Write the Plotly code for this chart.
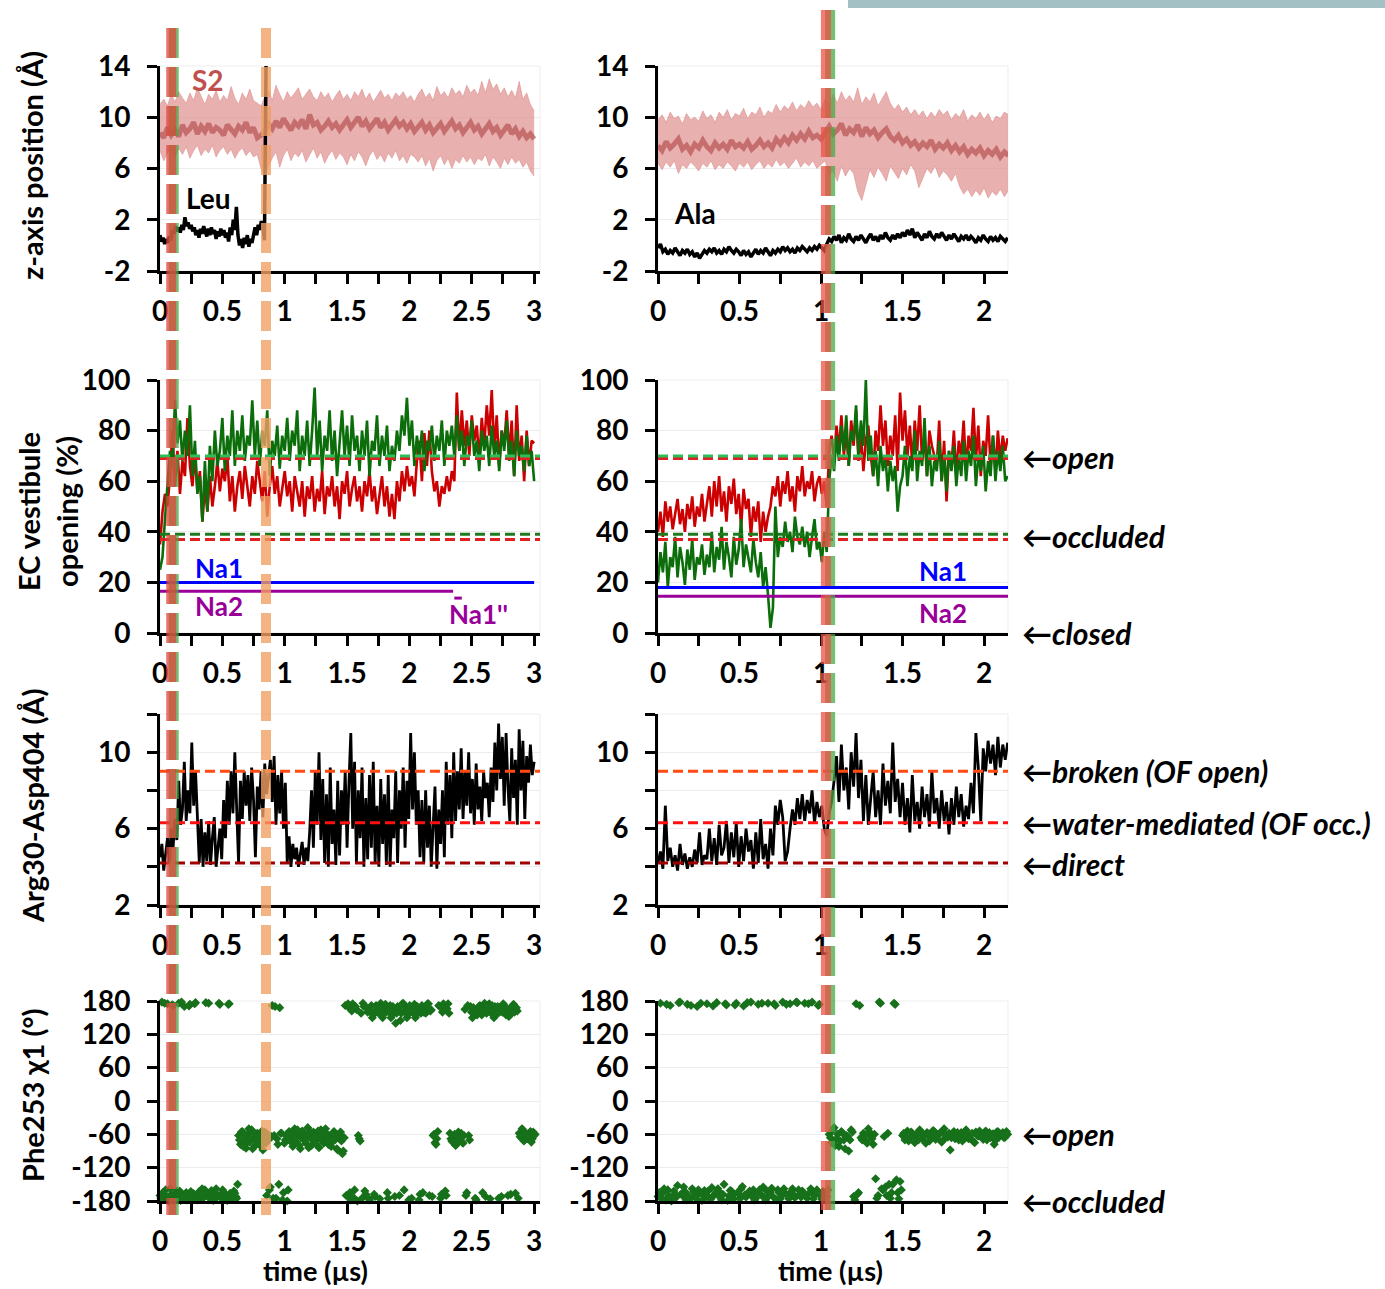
import numpy as np
import plotly.graph_objects as go

W, H = 1385, 1289
OFF = 0  # body margin removed via post_script
FONT = "Lato, 'Open Sans', sans-serif"

# ---------------- DATA ----------------
# Row 1: z-axis position (Å)
S2_STEP_L = 0.03
s2_center_L = [8.8, 8.4, 9.2, 8.6, 9.0, 8.5, 9.4, 8.8, 9.1, 9.6, 8.7, 9.3, 8.9, 9.5, 8.8, 9.2, 9.0, 8.6, 9.4, 9.1,
               8.7, 9.3, 9.0, 9.6, 8.8, 9.2, 8.4, 8.6, 8.9, 9.5, 9.1, 9.7, 9.2, 9.9, 9.4, 9.0, 9.6, 9.3, 9.8, 9.1,
               10.2, 9.4, 9.6, 9.0, 9.3, 9.7, 9.2, 9.5, 9.0, 9.4, 9.8, 9.2, 9.6, 10.0, 9.3, 9.7, 9.1, 9.5, 9.9, 9.2,
               9.6, 9.0, 9.4, 9.8, 9.3, 9.6, 9.1, 9.5, 8.9, 9.3, 9.6, 9.0, 9.4, 8.8, 9.2, 9.5, 8.9, 9.3, 9.7, 9.1,
               9.4, 8.8, 9.2, 9.6, 9.0, 9.3, 8.7, 9.1, 9.5, 8.9, 9.2, 8.6, 9.0, 9.4, 8.7, 9.1, 8.5, 8.9, 8.4, 8.7, 8.3]
s2_upper_L = [11.0, 11.4, 10.9, 11.8, 11.2, 12.0, 11.5, 11.1, 11.9, 11.3, 12.3, 11.6, 11.0, 11.8, 11.4, 12.1, 11.2, 11.7, 11.3, 12.4,
              11.5, 11.0, 11.9, 11.4, 12.2, 11.3, 11.1, 10.9, 11.6, 12.1, 11.3, 12.5, 11.8, 11.2, 12.0, 11.5, 11.9, 12.3, 11.4, 11.8,
              12.2, 11.6, 11.3, 12.0, 11.5, 11.9, 11.2, 11.7, 12.1, 11.4, 11.8, 11.3, 12.0, 11.6, 12.2, 11.4, 11.9, 11.2, 11.7, 12.1,
              11.5, 11.8, 11.3, 11.9, 11.6, 12.0, 11.4, 11.7, 11.2, 11.8, 12.2, 11.5, 11.9, 11.3, 12.4, 11.7, 12.0, 11.5, 12.3, 11.8,
              12.1, 11.6, 12.5, 11.9, 12.2, 11.7, 12.8, 11.9, 13.0, 12.2, 12.6, 11.8, 12.3, 11.6, 12.1, 11.5, 12.8, 11.4, 11.9, 11.0, 10.5]
s2_lower_L = [7.4, 6.6, 7.2, 7.5, 6.9, 7.6, 7.1, 7.7, 6.8, 7.4, 7.8, 7.0, 7.5, 7.2, 7.8, 6.9, 7.4, 7.7, 7.1, 7.5,
              6.8, 7.3, 7.6, 7.0, 7.4, 6.9, 7.1, 6.0, 5.5, 6.2, 6.8, 7.3, 6.1, 7.0, 7.5, 6.6, 7.2, 6.9, 7.4, 6.5,
              7.1, 7.6, 6.8, 7.3, 6.4, 7.0, 7.4, 6.7, 7.2, 6.9, 6.3, 7.1, 6.6, 7.3, 6.9, 6.2, 7.0, 7.4, 6.7, 7.1,
              6.5, 7.2, 6.8, 7.4, 6.6, 7.0, 6.4, 7.1, 6.9, 6.5, 7.0, 6.2, 6.8, 5.8, 6.6, 7.0, 6.3, 6.8, 6.0, 6.7,
              6.4, 7.0, 6.5, 6.9, 6.3, 6.8, 6.6, 7.1, 6.2, 6.9, 6.5, 6.0, 6.8, 6.3, 6.9, 6.4, 6.7, 6.1, 6.5, 5.8, 5.4]

S2_STEP_R = 0.025
s2_center_R = [7.8, 7.4, 8.1, 7.6, 7.9, 8.3, 7.5, 7.8, 7.3, 7.9, 7.6, 8.2, 7.7, 7.4, 8.0, 7.6, 7.9, 7.5, 8.2, 7.7,
               7.9, 7.6, 8.1, 7.5, 7.8, 8.2, 7.7, 8.0, 7.6, 8.3, 7.9, 8.4, 8.0, 8.6, 8.2, 8.7, 8.3, 8.9, 8.4, 8.6,
               8.3, 8.8, 9.3, 8.7, 9.0, 9.5, 8.6, 9.1, 8.8, 9.4, 8.5, 9.2, 8.7, 9.0, 8.4, 8.8, 9.1, 8.5, 8.2, 8.6,
               8.0, 8.3, 7.8, 8.1, 7.6, 8.0, 7.7, 8.2, 7.5, 7.9, 7.6, 8.0, 7.4, 7.8, 7.3, 7.7, 7.1, 7.5, 7.2, 7.6,
               7.0, 7.4, 7.1, 7.5, 6.9, 7.3, 7.0]
s2_upper_R = [9.8, 10.2, 9.6, 10.4, 9.9, 10.1, 9.5, 10.3, 9.8, 10.0, 9.7, 10.5, 9.9, 10.2, 9.6, 10.4, 10.0, 10.6, 9.8, 10.3,
              10.1, 10.7, 9.9, 10.4, 10.2, 10.8, 10.0, 10.5, 10.3, 11.0, 10.4, 10.9, 10.6, 11.2, 10.5, 11.0, 10.7, 11.3, 10.8, 11.1,
              10.6, 11.4, 10.9, 11.8, 11.1, 12.0, 11.3, 11.7, 11.2, 12.3, 11.0, 11.6, 11.2, 11.9, 10.9, 11.5, 12.0, 11.1, 10.6, 11.0,
              10.4, 10.8, 10.2, 10.6, 10.1, 10.5, 9.9, 10.4, 10.0, 10.6, 10.2, 10.5, 9.8, 10.3, 10.0, 10.6, 9.7, 10.2, 9.9, 10.4,
              9.8, 10.3, 9.6, 10.1, 9.9, 10.4, 10.2]
s2_lower_R = [6.4, 5.9, 6.5, 6.1, 6.6, 5.6, 6.3, 6.0, 6.5, 6.2, 5.8, 6.4, 6.1, 6.6, 5.9, 6.3, 6.0, 6.5, 6.2, 5.8,
              6.4, 6.1, 6.5, 5.9, 6.3, 6.6, 6.0, 6.4, 6.1, 6.7, 6.2, 6.5, 6.0, 6.4, 6.8, 6.1, 6.5, 6.2, 6.6, 6.0,
              6.3, 6.6, 5.5, 5.8, 5.0, 6.2, 5.4, 6.0, 5.6, 4.2, 3.5, 4.8, 5.9, 5.3, 6.1, 5.6, 5.0, 6.2, 5.7, 5.2,
              6.0, 5.5, 6.3, 5.8, 4.5, 5.2, 6.0, 5.6, 6.2, 5.3, 5.8, 5.5, 5.0, 5.6, 4.6, 4.0, 4.4, 3.8, 4.3, 3.9,
              4.5, 3.7, 4.2, 3.9, 4.4, 3.8, 4.3]

LEU_STEP = 0.0125
leu_z = [0.8, 0.3, 0.6, 0.1, 0.5, 0.2, 0.7, 0.4, 1.2, 0.9, 1.5, 1.1, 1.4, 1.0, 1.6, 1.2, 2.2, 1.5, 1.8, 1.3,
         1.6, 1.1, 1.4, 0.8, 1.2, 0.6, 1.3, 0.9, 1.5, 1.0, 0.7, 1.3, 0.8, 1.4, 0.9, 1.2, 0.5, 1.1, 0.7, 1.3,
         0.8, 1.2, 0.6, 1.0, 0.3, 1.4, 0.8, 2.0, 1.2, 3.0, 0.8, 0.0, 0.5, -0.2, 0.6, 0.1, 0.8, -0.1, 0.5, 0.2,
         0.9, 1.4, 0.8, 1.6, 1.2, 1.9, 1.5, 0.4, 14.0]

ALA_STEP = 0.015
ala_z = [-0.2, 0.1, -0.5, -0.3, -0.7, -0.4, -0.6, -0.2, -0.5, -0.8, -0.4, -0.6, -0.3, -0.7, -0.5, -0.9, -0.6, -1.0, -0.7, -0.4,
         -0.6, -0.3, -0.5, -0.2, -0.6, -0.4, -0.7, -0.3, -0.5, -0.1, -0.4, -0.6, -0.3, -0.5, -0.8, -0.4, -0.7, -0.5, -0.9, -0.6,
         -0.3, -0.7, -0.4, -0.6, -0.2, -0.5, -0.8, -0.4, -0.6, -0.3, -0.5, -0.1, -0.4, -0.2, -0.5, -0.3, -0.6, -0.2, -0.4, -0.1,
         -0.3, -0.5, -0.2, -0.4, -0.1, -0.3, 0.0, -0.2, -0.4, 0.1, 0.5, 0.3, 0.7, 0.4, 0.8, 0.2, 0.6, 0.4, 0.9, 0.5,
         0.3, 0.7, 0.4, 0.8, 0.5, 0.2, 0.6, 0.9, 0.4, 0.7, 0.3, 0.8, 0.5, 1.0, 0.6, 0.4, 0.8, 0.5, 0.9, 0.6,
         1.0, 0.7, 1.2, 0.8, 1.3, 0.6, 1.0, 0.7, 0.4, 0.9, 0.6, 1.1, 0.7, 0.5, 0.9, 0.6, 1.0, 0.7, 0.4, 0.8,
         0.5, 0.9, 0.6, 0.3, 0.7, 0.5, 0.8, 0.4, 0.7, 0.5, 0.2, 0.6, 0.4, 0.8, 0.5, 0.3, 0.7, 0.4, 0.6, 0.3,
         0.7, 0.5, 0.3, 0.6]

# Row 2: EC vestibule opening (%)
EC_STEP_L = 0.02
ec_red_L = [35, 48, 55, 50, 62, 80, 58, 72, 55, 68, 62, 85, 66, 58, 70, 56, 64, 44, 58, 48,
            62, 50, 58, 68, 56, 65, 60, 70, 52, 62, 48, 58, 64, 53, 66, 58, 50, 62, 55, 68,
            60, 52, 64, 46, 58, 66, 55, 62, 50, 58, 64, 54, 60, 48, 62, 56, 50, 60, 46, 58,
            53, 62, 48, 57, 52, 64, 47, 58, 54, 62, 50, 58, 45, 60, 55, 64, 50, 57, 62, 52,
            58, 48, 60, 54, 64, 52, 58, 47, 55, 62, 50, 58, 46, 55, 45, 60, 52, 64, 56, 66,
            58, 62, 54, 68, 76, 60, 79, 66, 80, 64, 56, 60, 50, 58, 55, 62, 56, 64, 60, 95,
            72, 88, 74, 84, 70, 86, 76, 82, 68, 85, 74, 90, 78, 96, 72, 86, 66, 80, 74, 88,
            70, 84, 62, 90, 68, 78, 60, 80, 66, 76, 75]
ec_green_L = [25, 30, 45, 60, 72, 65, 92, 75, 84, 68, 80, 70, 90, 62, 76, 55, 62, 44, 68, 48,
              74, 60, 80, 66, 72, 85, 64, 78, 70, 88, 66, 80, 72, 86, 68, 78, 74, 92, 70, 84,
              66, 80, 74, 88, 62, 76, 70, 82, 65, 78, 72, 85, 68, 80, 74, 88, 64, 78, 70, 84,
              66, 80, 97, 70, 84, 64, 78, 72, 88, 68, 80, 62, 76, 88, 70, 82, 66, 86, 72, 78,
              64, 80, 70, 84, 62, 76, 72, 86, 66, 78, 70, 82, 64, 74, 68, 80, 72, 86, 78, 93,
              74, 84, 66, 78, 70, 80, 64, 76, 72, 82, 68, 78, 72, 84, 66, 80, 74, 82, 70, 86,
              72, 80, 66, 78, 74, 84, 70, 76, 64, 80, 72, 78, 66, 82, 70, 76, 64, 80, 72, 84,
              68, 76, 62, 80, 70, 74, 64, 78, 66, 72, 60]

EC_STEP_R = 0.015
ec_red_R = [40, 48, 38, 52, 44, 50, 41, 47, 53, 43, 49, 40, 51, 45, 54, 42, 50, 46, 55, 44,
            52, 58, 46, 60, 50, 62, 48, 56, 44, 58, 51, 61, 47, 55, 42, 57, 49, 53, 38, 50,
            44, 52, 36, 48, 40, 46, 50, 58, 54, 62, 50, 60, 55, 64, 52, 58, 48, 62, 56, 66,
            54, 60, 57, 64, 52, 59, 62, 55, 60, 50, 72, 78, 68, 82, 72, 86, 70, 80, 66, 84,
            74, 88, 68, 78, 64, 76, 82, 70, 62, 80, 72, 90, 74, 84, 66, 78, 70, 86, 64, 95,
            76, 88, 70, 82, 66, 84, 72, 90, 68, 78, 62, 80, 74, 70, 66, 84, 60, 76, 52, 72,
            66, 80, 62, 76, 70, 84, 64, 78, 72, 89, 68, 82, 62, 76, 70, 86, 66, 78, 64, 80,
            68, 78, 72, 77]
ec_green_R = [20, 32, 24, 36, 18, 30, 26, 38, 22, 34, 28, 19, 33, 25, 37, 21, 30, 27, 35, 23,
              31, 26, 40, 24, 34, 29, 42, 25, 36, 30, 22, 38, 27, 33, 45, 26, 35, 30, 24, 37,
              28, 22, 32, 18, 26, 15, 2, 10, 50, 30, 38, 34, 44, 36, 40, 32, 46, 38, 35, 42,
              34, 40, 30, 38, 45, 33, 36, 28, 40, 32, 60, 70, 64, 78, 68, 82, 72, 86, 66, 80,
              76, 90, 70, 84, 74, 100, 68, 78, 62, 72, 58, 74, 64, 70, 56, 68, 60, 66, 48, 58,
              62, 74, 58, 70, 64, 80, 60, 72, 66, 85, 62, 74, 58, 68, 64, 76, 60, 70, 56, 72,
              64, 74, 58, 70, 62, 76, 60, 72, 66, 78, 58, 70, 64, 74, 56, 68, 62, 78, 60, 72,
              64, 74, 60, 62]

ec_open_green, ec_open_red = 70, 69
ec_occl_green, ec_occl_red = 39, 37
na1_L, na2_L, na1pp_L = 20, 16.5, 13.8
na1_end_L, na2_end_L = 3.0, 2.35
na1pp_span_L = [2.36, 2.42]
na1_R, na2_R = 18, 14.5

# Row 3: Arg30-Asp404 (Å)
ARG_STEP = 0.015
arg_L = [4.5, 5.2, 3.8, 4.6, 5.5, 4.2, 6.0, 5.0, 6.5, 5.4, 8.5, 6.2, 7.0, 9.5, 6.4, 8.0, 6.8, 10.5, 7.2, 9.0,
         6.0, 4.2, 6.5, 4.0, 5.8, 4.3, 6.4, 4.1, 5.5, 6.6, 4.0, 5.2, 6.0, 4.4, 7.5, 5.5, 8.5, 6.2, 9.0, 6.8,
         10.0, 7.0, 4.2, 8.5, 6.5, 9.0, 7.2, 8.8, 6.4, 9.2, 7.5, 4.5, 8.2, 7.0, 9.0, 6.6, 9.4, 7.8, 8.6, 9.6,
         7.4, 9.8, 6.2, 8.8, 6.8, 9.0, 6.0, 8.4, 4.2, 5.6, 4.0, 5.2, 4.4, 5.0, 4.0, 4.8, 5.3, 4.1, 5.0, 4.3,
         5.8, 8.0, 5.0, 9.0, 6.2, 10.0, 5.4, 8.6, 4.2, 7.8, 4.0, 9.2, 5.2, 7.0, 4.1, 8.5, 4.6, 8.0, 6.2, 9.0,
         5.0, 8.4, 11.0, 6.0, 9.5, 4.2, 8.0, 5.5, 9.2, 4.0, 7.6, 4.4, 8.8, 5.0, 9.5, 4.2, 7.2, 4.0, 8.6, 5.2,
         7.8, 4.1, 8.8, 4.0, 7.0, 5.5, 9.0, 4.2, 8.0, 6.0, 9.2, 5.0, 8.5, 6.5, 11.0, 7.0, 10.0, 6.2, 8.0, 4.5,
         7.5, 4.2, 8.0, 5.0, 7.2, 4.0, 6.5, 8.2, 3.9, 7.0, 5.2, 8.0, 4.5, 9.5, 6.2, 8.8, 5.5, 10.0, 6.4, 9.0,
         7.0, 10.2, 6.5, 9.0, 7.2, 10.0, 6.8, 8.6, 6.2, 9.4, 7.0, 8.2, 6.4, 9.0, 7.6, 8.4, 6.6, 9.2, 7.4, 10.5,
         8.0, 11.5, 8.6, 10.8, 7.2, 11.0, 8.2, 6.4, 10.2, 7.6, 9.6, 6.2, 11.2, 8.0, 10.6, 6.5, 9.8, 8.4, 10.4, 8.8,
         9.5]
arg_R = [4.2, 4.8, 3.9, 7.2, 4.3, 5.0, 4.0, 4.6, 3.8, 5.2, 4.1, 4.7, 3.9, 4.5, 4.0, 4.9, 4.2, 5.8, 4.1, 4.6,
         4.4, 6.0, 4.3, 5.5, 4.1, 6.2, 4.6, 5.0, 6.4, 4.2, 5.8, 4.5, 6.3, 4.0, 5.6, 4.3, 6.0, 4.8, 5.4, 3.9,
         5.8, 4.2, 6.5, 4.4, 5.2, 3.9, 6.0, 4.6, 7.2, 6.2, 7.5, 6.6, 4.3, 4.8, 6.0, 7.0, 6.2, 7.6, 6.5, 7.8,
         6.4, 7.5, 6.8, 8.0, 6.3, 7.4, 6.6, 7.2, 6.0, 5.6, 6.8, 7.4, 8.5, 9.8, 7.4, 10.4, 8.0, 9.2, 7.0, 10.0,
         8.2, 11.0, 7.6, 9.6, 6.4, 8.8, 6.2, 7.8, 9.0, 6.6, 8.0, 6.2, 9.4, 7.2, 8.5, 6.8, 10.5, 7.4, 8.6, 6.6,
         8.4, 6.2, 7.6, 5.8, 8.8, 6.4, 7.4, 6.0, 8.2, 6.6, 7.8, 6.1, 9.0, 6.8, 7.6, 6.0, 8.0, 6.4, 7.4, 5.7,
         7.6, 6.2, 8.2, 6.6, 7.8, 6.1, 7.2, 6.5, 8.4, 6.8, 11.0, 9.2, 6.4, 10.2, 9.0, 10.6, 9.4, 10.4, 8.8, 10.8,
         9.2, 10.4, 9.6, 10.5]
arg_broken, arg_water, arg_direct = 9.0, 6.3, 4.2

# Row 4: Phe253 chi1 (deg) -- two interleaved frame sets
CHI_STEP = 0.015
CHI_SHIFT = 0.0075
chi_L = [-170, 178, -175, -160, 175, -178, -168, 172, -174, -162, 176, -179, -171, 170, -165, -176, 174, -172, -167, 177,
         -178, -163, -171, -175, -160, -169, 176, -177, -166, -173, -158, -170, 174, -176, -164, -172, -179, 175, -168, -174,
         -166, -175, -62, -78, -55, -70, -85, -60, -74, -52, -68, -80, -58, -72, -65, -88, -56, -170, -70, -155,
         172, -62, -175, -78, 168, -58, -165, -70, -180, -55, -66, -82, -50, -74, -60, -86, -54, -68, -76, -48,
         -64, -80, -56, -72, -62, -84, -52, -70, -66, -58, -78, -62, -74, -55, -68, -88, -60, -72, -90, 172,
         -170, 168, -178, 175, -160, 165, -62, -72, -175, 170, -168, 160, -178, 172, 155, -172, 165, 158, 176, 150,
         168, 160, -175, 172, 155, 165, 140, 170, -170, 158, 176, 162, 150, -178, 168, 160, 174, 155, 166, -168,
         172, 160, 158, 175, -170, 164, -62, -75, -68, 172, -175, 160, 168, -170, 175, -58, -72, -65, -80, -62,
         -70, -58, -76, 165, -165, -62, 170, 150, 158, -178, 165, 172, 155, 168, -172, 160, 175, 158, 166, 170,
         156, -175, 168, 160, 172, 155, -170, 165, 158, 174, -166, 162, -58, -66, -52, -70, -60, -64, -55, -68,
         -62]
chi_L_b = [-175, -165, 176, -172, -180, -158, 173, -170, -176, -166, -162, 178, -174, -169, -178, 171, -163, -177, 175, -171,
           -166, -176, -158, -172, 177, -168, -174, -161, -179, -165, -173, 176, -169, -160, -177, -171, 174, -166, -175, -162,
           -172, -150, -70, -56, -82, -64, -75, -50, -68, -86, -58, -72, -62, -80, -54, -70, -76, -60, -160, -64,
           -175, 170, -68, -150, -58, -178, -76, -62, -160, -72, -58, -76, -64, -52, -80, -66, -58, -72, -62, -84,
           -56, -70, -66, -78, -54, -68, -60, -76, -50, -72, -64, -82, -58, -70, -86, -62, -56, -95, -66, -170,
           175, -165, 162, -174, 170, -180, -68, 158, 176, -162, 168, -175, 164, 150, -168, 172, 160, -176, 166, 158,
           174, -165, 162, 150, 170, -172, 158, 166, 145, 175, -160, 168, 155, 172, -175, 162, 150, 170, -178, 158,
           -165, 168, 160, 175, 162, -172, -60, -78, -55, 170, -168, 175, -162, 166, 158, -68, -74, -60, -78, -56,
           -66, -74, -62, -170, 172, -70, 160, 168, -175, 155, 170, 162, -165, 176, 158, 166, -176, 172, 150, 164,
           170, 160, -172, 175, 158, 166, 152, -168, 172, 160, 168, -175, -64, -50, -72, -58, -68, -62, -74, -56,
           -60]
chi_R = [-172, 176, -165, -178, -160, 172, -175, -168, -152, 178, -170, -163, 174, -177, -158, -172, 170, -166, -179, -161,
         175, -174, -156, -169, 177, -164, -178, -150, 173, -171, -162, -176, 176, -167, -158, 171, -173, -165, 178, -160,
         -175, 174, -168, -155, -178, 176, -164, -172, 172, -160, -176, 178, -166, -170, 175, -158, -174, 177, -168, -162,
         176, -175, -165, 178, -170, -160, 174, -177, -168, -172, -60, -75, -48, -68, -82, -55, -70, -62, -90, -52,
         -172, 175, -165, -66, -58, -72, -50, -64, -78, -140, -170, 176, -160, -155, -58, -175, -150, 174, -165, -145,
         -62, -70, -54, -66, -58, -75, -60, -52, -68, -63, -57, -72, -61, -55, -67, -59, -74, -50, -64, -58,
         -66, -55, -62, -70, -57, -64, -52, -68, -60, -73, -56, -63, -58, -69, -54, -61, -66, -59, -71, -55,
         -62, -57, -65, -60]
chi_R_b = [-165, -176, -158, 174, -170, -180, -162, -173, 177, -167, -155, -178, -171, 172, -164, -175, -160, 176, -169, -173,
           -162, -177, 171, -166, -158, -174, -168, 175, -179, -161, -170, 173, -165, -176, -154, -169, 177, -162, -172, -178,
           -166, -160, 176, -174, -162, -170, -157, 175, -178, -165, -171, -158, 174, -176, -163, -169, 178, -160, -173, -167,
           -170, 175, -158, -176, -164, 172, -171, -163, -178, -160, -66, -52, -80, -60, -72, -58, -86, -64, -70, -56,
           -178, -168, 172, -70, -62, -76, -56, -68, -60, -175, 178, -158, -64, -170, -150, -165, 176, -142, -176, -160,
           -58, -66, -72, -56, -64, -60, -70, -55, -62, -76, -59, -66, -53, -69, -62, -57, -71, -60, -65, -88,
           -60, -68, -57, -64, -72, -55, -61, -67, -58, -75, -62, -54, -66, -60, -70, -57, -63, -78, -56, -65,
           -60, -66, -55, -62]

# event markers (µs)
event_L_red, event_L_green, event_L_orange = 0.09, 0.11, 0.85
event_R_red, event_R_green = 1.03, 1.056

# tick definitions
x_ticks_L = [0, 0.25, 0.5, 0.75, 1, 1.25, 1.5, 1.75, 2, 2.25, 2.5, 2.75, 3]
x_ticks_R = [0, 0.25, 0.5, 0.75, 1, 1.25, 1.5, 1.75, 2]
y_ticks = {0: [-2, 2, 6, 10, 14], 1: [0, 20, 40, 60, 80, 100], 2: [2, 4, 6, 8, 10, 12],
           3: [-180, -120, -60, 0, 60, 120, 180]}
y_ticktext = {2: ["2", "", "6", "", "10", ""]}

# ---------------- LAYOUT GEOMETRY (target pixels in the screenshot) ----------------
col_px = {0: (160, 540), 1: (658, 1008)}
col_range = {0: [0, 3.047], 1: [0, 2.147]}
row_px = {0: (66, 271), 1: (380, 633), 2: (714, 905), 3: (1001, 1201)}
row_range = {0: [-2, 14], 1: [0, 100], 2: [2, 12], 3: [-180, 180]}


def py(px):
    return 1 - (px - OFF) / H


def pxx(px):
    return (px - OFF) / W


def tgrid(n, step, shift=0.0):
    return [round(i * step + shift, 5) for i in range(n)]


fig = go.Figure()
layout = dict(width=W, height=H, margin=dict(l=0, r=0, t=0, b=0, pad=0, autoexpand=False),
              paper_bgcolor="white", plot_bgcolor="white", showlegend=False,
              font=dict(family=FONT, color="black"))
shapes = []
annotations = []


def axnames(r, c):
    n = r * 2 + c + 1
    s = "" if n == 1 else str(n)
    return "x" + s, "y" + s, "xaxis" + s, "yaxis" + s


TICKFONT = dict(family=FONT, size=28, color="black", weight="bold")

for r in range(4):
    for c in range(2):
        xr, yr, xk, yk = axnames(r, c)
        xt = x_ticks_L if c == 0 else x_ticks_R
        xtext = [("%g" % v) if abs(v * 2 - round(v * 2)) < 1e-9 else "" for v in xt]
        layout[xk] = dict(domain=[pxx(col_px[c][0]), pxx(col_px[c][1])], range=col_range[c],
                          anchor=yr, tickmode="array", tickvals=xt, ticktext=xtext,
                          ticks="outside", ticklen=10, tickwidth=3, tickcolor="black",
                          showline=True, linecolor="black", linewidth=3, showgrid=False,
                          zeroline=False, tickfont=TICKFONT, ticklabelstandoff=3, automargin=False)
        layout[yk] = dict(domain=[py(row_px[r][1]), py(row_px[r][0])], range=row_range[r],
                          anchor=xr, tickmode="array", tickvals=y_ticks[r],
                          ticktext=y_ticktext.get(r, ["%g" % v for v in y_ticks[r]]),
                          ticks="outside", ticklen=10, tickwidth=3, tickcolor="black",
                          showline=True, linecolor="black", linewidth=3, showgrid=True,
                          gridcolor="#ECECEC", gridwidth=1, zeroline=False,
                          tickfont=TICKFONT, ticklabelstandoff=11, automargin=False)
        shapes.append(dict(type="rect", xref=xr + " domain", yref=yr + " domain", x0=0, x1=1, y0=0, y1=1,
                           line=dict(color="#EDEDED", width=1), layer="below"))

# ---- Row 1 traces ----
for c, (up, lo, ce, st) in enumerate([(s2_upper_L, s2_lower_L, s2_center_L, S2_STEP_L),
                                       (s2_upper_R, s2_lower_R, s2_center_R, S2_STEP_R)]):
    xr, yr, _, _ = axnames(0, c)
    t = tgrid(len(up), st)
    fig.add_trace(go.Scatter(x=t, y=lo, mode="lines", line=dict(width=0.8, color="rgba(215,125,125,0.6)"),
                             xaxis=xr, yaxis=yr, hoverinfo="skip"))
    fig.add_trace(go.Scatter(x=t, y=up, mode="lines", line=dict(width=0.8, color="rgba(215,125,125,0.6)"),
                             fill="tonexty", fillcolor="rgba(224,145,145,0.72)", xaxis=xr, yaxis=yr))
    fig.add_trace(go.Scatter(x=t, y=ce, mode="lines", line=dict(width=5, color="rgba(185,88,88,0.75)"),
                             xaxis=xr, yaxis=yr))

fig.add_trace(go.Scatter(x=tgrid(len(leu_z), LEU_STEP), y=leu_z, mode="lines",
                         line=dict(color="black", width=3.5), xaxis="x", yaxis="y"))
fig.add_trace(go.Scatter(x=tgrid(len(ala_z), ALA_STEP), y=ala_z, mode="lines",
                         line=dict(color="black", width=3.5), xaxis="x2", yaxis="y2"))

# ---- Row 2 traces ----
for c, (red, green, st) in enumerate([(ec_red_L, ec_green_L, EC_STEP_L), (ec_red_R, ec_green_R, EC_STEP_R)]):
    xr, yr, _, _ = axnames(1, c)
    fig.add_trace(go.Scatter(x=tgrid(len(red), st), y=red, mode="lines", line=dict(color="#CC0000", width=2.6),
                             xaxis=xr, yaxis=yr))
    fig.add_trace(go.Scatter(x=tgrid(len(green), st), y=green, mode="lines", line=dict(color="#0B6E0B", width=2.6),
                             xaxis=xr, yaxis=yr))
    for val, col in [(ec_open_red, "#E02020"), (ec_open_green, "#2DBE5A"),
                     (ec_occl_red, "#E02020"), (ec_occl_green, "#1E7A1E")]:
        shapes.append(dict(type="line", xref=xr + " domain", yref=yr, x0=0, x1=1, y0=val, y1=val,
                           line=dict(color=col, width=3, dash="10px,5px"), layer="above"))

shapes.append(dict(type="line", xref="x3", yref="y3", x0=0, x1=na1_end_L, y0=na1_L, y1=na1_L,
                   line=dict(color="#0000FF", width=3)))
shapes.append(dict(type="line", xref="x3", yref="y3", x0=0, x1=na2_end_L, y0=na2_L, y1=na2_L,
                   line=dict(color="#990099", width=3)))
shapes.append(dict(type="line", xref="x3", yref="y3", x0=na1pp_span_L[0], x1=na1pp_span_L[1],
                   y0=na1pp_L, y1=na1pp_L, line=dict(color="#990099", width=3)))
shapes.append(dict(type="line", xref="x4 domain", yref="y4", x0=0, x1=1, y0=na1_R, y1=na1_R,
                   line=dict(color="#0000FF", width=3)))
shapes.append(dict(type="line", xref="x4 domain", yref="y4", x0=0, x1=1, y0=na2_R, y1=na2_R,
                   line=dict(color="#990099", width=3)))

# ---- Row 3 traces ----
for c, vals in enumerate([arg_L, arg_R]):
    xr, yr, _, _ = axnames(2, c)
    fig.add_trace(go.Scatter(x=tgrid(len(vals), ARG_STEP), y=vals, mode="lines",
                             line=dict(color="black", width=2.8), xaxis=xr, yaxis=yr))
    for val, col in [(arg_broken, "#FF4A10"), (arg_water, "#FF1010"), (arg_direct, "#A00000")]:
        shapes.append(dict(type="line", xref=xr + " domain", yref=yr, x0=0, x1=1, y0=val, y1=val,
                           line=dict(color=col, width=3, dash="10px,5px"), layer="above"))

# ---- Row 4 traces ----
for c, (va, vb) in enumerate([(chi_L, chi_L_b), (chi_R, chi_R_b)]):
    xr, yr, _, _ = axnames(3, c)
    for vals, sh in [(va, 0.0), (vb, CHI_SHIFT)]:
        fig.add_trace(go.Scatter(x=tgrid(len(vals), CHI_STEP, sh), y=vals, mode="markers",
                                 marker=dict(symbol="diamond", size=7, color="#17701A"),
                                 xaxis=xr, yaxis=yr, cliponaxis=False))

# ---- vertical event lines ----
DASH = "30px,9px"
for xv, col, xr, top, bot in [(event_L_green, "rgba(70,170,70,0.75)", "x", 28, 1215),
                              (event_L_red, "rgba(225,70,60,0.75)", "x", 28, 1215),
                              (event_L_orange, "rgba(240,160,100,0.8)", "x", 28, 1215),
                              (event_R_green, "rgba(70,170,70,0.75)", "x2", 10, 1212),
                              (event_R_red, "rgba(235,80,70,0.75)", "x2", 10, 1212)]:
    shapes.append(dict(type="line", xref=xr, yref="paper", x0=xv, x1=xv, y0=py(top), y1=py(bot),
                       line=dict(color=col, width=10, dash=DASH), layer="above"))

shapes.append(dict(type="rect", xref="paper", yref="paper", x0=pxx(848), x1=1, y0=py(8), y1=1,
                   line=dict(width=0), fillcolor="#A3C1C4"))


def txt(x, y, s, xref, yref, size=28, color="black", italic=False, xanchor="center", angle=0):
    annotations.append(dict(x=x, y=y, xref=xref, yref=yref, text=s, showarrow=False, xanchor=xanchor,
                            yanchor="middle", textangle=angle,
                            font=dict(family=FONT, size=size, color=color, weight="bold",
                                      style="italic" if italic else "normal")))


txt(0.385, 12.9, "S2", "x", "y", color="#C0504D")
txt(0.385, 3.7, "Leu", "x", "y")
txt(0.23, 2.5, "Ala", "x2", "y2")
txt(0.47, 25.7, "Na1", "x3", "y3", size=26, color="#0000FF")
txt(0.47, 10.5, "Na2", "x3", "y3", size=26, color="#990099")
txt(2.55, 7.5, "Na1''", "x3", "y3", size=26, color="#990099")
txt(1.75, 24.5, "Na1", "x4", "y4", size=26, color="#0000FF")
txt(1.75, 8.0, "Na2", "x4", "y4", size=26, color="#990099")

txt(pxx(32), py(166), "z-axis position (Å)", "paper", "paper", size=29, angle=-90)
txt(pxx(47), py(512), "EC vestibule<br>opening (%)", "paper", "paper", size=29, angle=-90)
txt(pxx(32), py(806), "Arg30-Asp404 (Å)", "paper", "paper", size=29, angle=-90)
txt(pxx(32), py(1096), "Phe253 χ1 (°)", "paper", "paper", size=29, angle=-90)
txt(pxx(315), py(1270), "time (µs)", "paper", "paper", size=27)
txt(pxx(830), py(1270), "time (µs)", "paper", "paper", size=27)

for ypx, s in [(457, "←open"), (536, "←occluded"), (633, "←closed"),
               (771, "←broken (OF open)"), (823, "←water-mediated (OF occ.)"), (864, "←direct"),
               (1134, "←open"), (1201, "←occluded")]:
    txt(pxx(1020), py(ypx), s, "paper", "paper", size=30, italic=True, xanchor="left")

layout["shapes"] = shapes
layout["annotations"] = annotations
fig.update_layout(**layout)
fig.write_html("out.html", config={"displayModeBar": False},
               post_script="document.body.style.margin='0px';")
